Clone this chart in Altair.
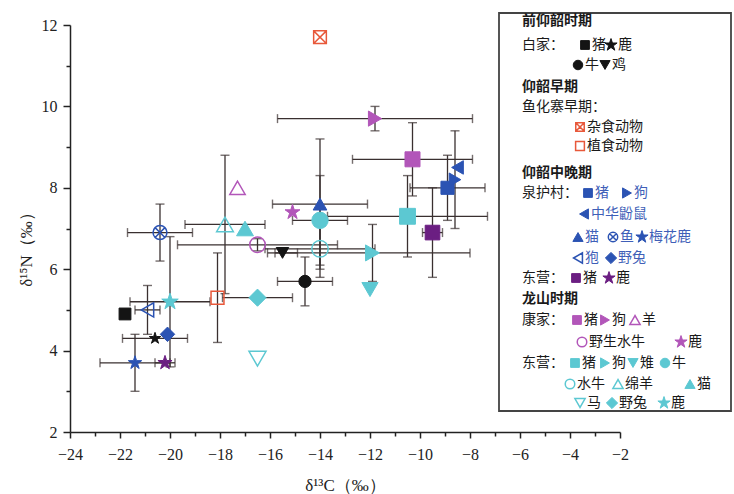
import altair as alt
import pandas as pd

# ---------------- data ----------------
group = (["白家"] * 4 + ["鱼化寨"] * 2 + ["泉护村"] * 8 + ["东营(仰韶)"] * 2
         + ["康家"] * 5 + ["东营(龙山)"] * 10)
animal = ["猪", "鹿", "牛", "鸡",
          "杂食动物", "植食动物",
          "猪", "狗", "中华鼢鼠", "猫", "鱼", "梅花鹿", "狍", "野兔",
          "猪", "鹿",
          "猪", "狗", "羊", "野生水牛", "鹿",
          "猪", "狗", "雉", "牛", "水牛", "绵羊", "猫", "马", "野兔", "鹿"]
d13c = [-21.8, -20.6, -14.6, -15.5,
        -14.0, -18.1,
        -8.9, -8.6, -8.5, -14.0, -20.4, -21.4, -20.9, -20.1,
        -9.5, -20.2,
        -10.3, -11.8, -17.3, -16.5, -15.1,
        -10.5, -11.9, -12.0, -14.0, -14.0, -17.8, -17.0, -16.5, -16.5, -20.0]
d15n = [4.9, 4.3, 5.7, 6.4,
        11.7, 5.3,
        8.0, 8.2, 8.5, 7.6, 6.9, 3.7, 5.0, 4.4,
        6.9, 3.7,
        8.7, 9.7, 8.0, 6.6, 7.4,
        7.3, 6.4, 5.5, 7.2, 6.5, 7.1, 7.0, 3.8, 5.3, 5.2]
sd13c = [0, 1.3, 1.1, 0.6,
         0, 0,
         1.5, 0, 0, 1.9, 1.3, 1.4, 0.5, 0,
         0.4, 0.4,
         2.4, 3.9, 0, 3.2, 0,
         3.2, 3.9, 0, 1.1, 2.2, 1.6, 0, 0, 1.4, 1.6]
sd15n = [0, 0, 0.6, 0,
         0, 1.1,
         0.8, 1.2, 0, 1.6, 0.7, 0.7, 0.6, 0,
         1.1, 0,
         0.9, 0.3, 0, 0.15, 0,
         1.0, 0.7, 0, 1.1, 0.7, 1.7, 0, 0, 0, 1.6]

# ---------------- styles ----------------
GROUP_COLOR = {"白家": "#141414", "鱼化寨": "#E8583A", "泉护村": "#2B53B3",
               "东营(仰韶)": "#6B1E82", "康家": "#B256B9", "东营(龙山)": "#5CC8D2"}
STAR = ("M0,-1L0.2245,-0.309L0.951,-0.309L0.363,0.118L0.588,0.809L0,0.382"
        "L-0.588,0.809L-0.363,0.118L-0.951,-0.309L-0.2245,-0.309Z")
XSQ = "M-1,-1L1,-1L1,1L-1,1Z M-1,-1L1,1 M1,-1L-1,1"
XCIRC = ("M-1,0A1,1,0,1,1,1,0A1,1,0,1,1,-1,0Z "
         "M-0.707,-0.707L0.707,0.707 M0.707,-0.707L-0.707,0.707")
marker = ["square", STAR, "circle", "triangle-down",
          XSQ, "square",
          "square", "triangle-right", "triangle-left", "triangle-up", XCIRC, STAR, "triangle-left", "diamond",
          "square", STAR,
          "square", "triangle-right", "triangle-up", "circle", STAR,
          "square", "triangle-right", "triangle-down", "circle", "circle", "triangle-up", "triangle-up",
          "triangle-down", "diamond", STAR]
T, F = True, False
hollow = [F, F, F, F, T, T, F, F, F, F, T, F, T, F, F, F, F, F, T, T, F,
          F, F, F, F, T, T, F, T, F, F]
SHAPE_SIZE = {"square": 140, "circle": 165, "triangle-up": 190, "triangle-down": 190,
              "triangle-left": 190, "triangle-right": 190, "diamond": 230,
              STAR: 300, XSQ: 130, XCIRC: 160}

keys = [f"{g}·{a}" for g, a in zip(group, animal)]
colors = [GROUP_COLOR[g] for g in group]
fills = ["transparent" if h else c for h, c in zip(hollow, colors)]
sizes = [SHAPE_SIZE[m] for m in marker]
swidths = [1.5 if h else 1.0 for h in hollow]

df = pd.DataFrame({"key": keys, "x": d13c, "y": d15n, "sx": sd13c, "sy": sd15n,
                   "sw": swidths})
df["xlo"] = df.x - df.sx
df["xhi"] = df.x + df.sx
df["ylo"] = df.y - df.sy
df["yhi"] = df.y + df.sy
hx = df[df.sx > 0]
hy = df[df.sy > 0]
hcaps = pd.concat([pd.DataFrame({"x": hx.xlo, "y": hx.y}), pd.DataFrame({"x": hx.xhi, "y": hx.y})])
vcaps = pd.concat([pd.DataFrame({"x": hy.x, "y": hy.ylo}), pd.DataFrame({"x": hy.x, "y": hy.yhi})])

# ---------------- scales & axes ----------------
OX, OY = 70, 25  # plot origin in the page
xs = alt.Scale(domain=[-24, -2], nice=False, zero=False)
ys = alt.Scale(domain=[2, 12], nice=False, zero=False)
AX = dict(grid=False, domainColor="#222", domainWidth=1.5, tickColor="#222", tickWidth=1.5,
          labelFont="Liberation Serif", labelFontSize=16, labelColor="#222",
          titleFont="Liberation Serif", titleFontSize=17, titleColor="#222",
          titleFontWeight="normal", labelOverlap=False, labelFlush=False)
xaxis = alt.Axis(values=list(range(-24, -1)), title="δ¹³C（‰）",
                 labelExpr="datum.value % 2 === 0 ? datum.label : ''",
                 tickSize={"condition": {"test": "datum.value % 2 === 0", "value": 6}, "value": 4},
                 labelPadding=8, titleX=275, titleY=53, titleBaseline="middle", **AX)
yaxis = alt.Axis(values=list(range(2, 13)), title="δ¹⁵N（‰）",
                 labelExpr="datum.value % 2 === 0 ? datum.label : ''",
                 tickSize={"condition": {"test": "datum.value % 2 === 0", "value": 7}, "value": 4},
                 labelPadding=6, titleX=-44, titleY=220, titleBaseline="middle", **AX)

EB = "#3a3030"
X = lambda f: alt.X(f, type="quantitative", scale=xs, axis=xaxis)
Y = lambda f: alt.Y(f, type="quantitative", scale=ys, axis=yaxis)

hbar = alt.Chart(hx).mark_rule(color=EB, strokeWidth=1.3).encode(x=X("xlo"), x2="xhi", y=Y("y"))
vbar = alt.Chart(hy).mark_rule(color=EB, strokeWidth=1.3).encode(x=X("x"), y=Y("ylo"), y2="yhi")
hcap = alt.Chart(hcaps).mark_tick(orient="vertical", size=9, thickness=1.4, color=EB).encode(x=X("x"), y=Y("y"))
vcap = alt.Chart(vcaps).mark_tick(orient="horizontal", size=9, thickness=1.4, color=EB).encode(x=X("x"), y=Y("y"))

shape_enc = alt.Shape("key:N", scale=alt.Scale(domain=keys, range=marker), legend=None)
fill_enc = alt.Fill("key:N", scale=alt.Scale(domain=keys, range=fills), legend=None)
stroke_enc = alt.Stroke("key:N", scale=alt.Scale(domain=keys, range=colors), legend=None)

points = alt.Chart(df).mark_point(filled=True, opacity=1, fillOpacity=1).encode(
    x=X("x"), y=Y("y"), shape=shape_enc, fill=fill_enc, stroke=stroke_enc,
    size=alt.Size("key:N", scale=alt.Scale(domain=keys, range=sizes), legend=None),
    strokeWidth=alt.StrokeWidth("sw:Q", scale=None),
)

# ---------------- custom legend (page pixel layout) ----------------
headers = [(522, 21, "前仰韶时期"), (522, 87, "仰韶早期"), (522, 173, "仰韶中晚期"), (522, 299, "龙山时期")]
sites = [(522, 45, "白家："), (522, 107, "鱼化寨早期："), (522, 193, "泉护村："),
         (522, 278, "东营："), (522, 320, "康家："), (522, 363, "东营：")]
items = [(585, 45, 0), (611, 45, 1), (578, 65, 2), (605, 65, 3),
         (580, 127, 4), (580, 146, 5),
         (588, 193, 6), (627, 193, 7), (584, 214, 8),
         (578, 237, 9), (613, 237, 10), (642, 237, 11),
         (578, 258, 12), (611, 258, 13),
         (576, 278, 14), (609, 278, 15),
         (577, 320, 16), (605, 320, 17), (635, 320, 18),
         (582, 342, 19), (681, 342, 20),
         (575, 363, 21), (605, 363, 22), (633, 363, 23), (665, 363, 24),
         (570, 384, 25), (618, 384, 26), (690, 384, 27),
         (580, 403, 28), (612, 403, 29), (664, 403, 30)]

leg_sym = pd.DataFrame({"lx": [p[0] - OX for p in items], "ly": [p[1] - OY for p in items],
                        "key": [keys[p[2]] for p in items],
                        "sz": [sizes[p[2]] * 0.55 for p in items],
                        "sw": [swidths[p[2]] for p in items]})
leg_lab = pd.DataFrame({"lx": [p[0] - OX + 7 for p in items], "ly": [p[1] - OY for p in items],
                        "t": [animal[p[2]] for p in items],
                        "c": ["#3F5FB8" if group[p[2]] == "泉护村" else "#1a1a1a" for p in items]})
leg_site = pd.DataFrame({"lx": [p[0] - OX for p in sites], "ly": [p[1] - OY for p in sites],
                         "t": [p[2] for p in sites]})
leg_head = pd.DataFrame({"lx": [p[0] - OX for p in headers], "ly": [p[1] - OY for p in headers],
                         "t": [p[2] for p in headers]})

LX = alt.X("lx:Q", scale=None, axis=None)
LY = alt.Y("ly:Q", scale=None, axis=None)
box = alt.Chart(pd.DataFrame({"a": [0]})).mark_rect(fill="white", stroke="#444", strokeWidth=1.8).encode(
    x=alt.value(499 - OX), x2=alt.value(731 - OX), y=alt.value(13 - OY), y2=alt.value(411 - OY))
lsym = alt.Chart(leg_sym).mark_point(filled=True, opacity=1).encode(
    x=LX, y=LY, shape=shape_enc, fill=fill_enc, stroke=stroke_enc,
    size=alt.Size("sz:Q", scale=None), strokeWidth=alt.StrokeWidth("sw:Q", scale=None))
FONT = "Noto Sans CJK SC"
llab = alt.Chart(leg_lab).mark_text(align="left", baseline="middle", font=FONT, fontSize=14).encode(
    x=LX, y=LY, text="t:N", color=alt.Color("c:N", scale=None))
lsite = alt.Chart(leg_site).mark_text(align="left", baseline="middle", font=FONT, fontSize=14,
                                      color="#1a1a1a").encode(x=LX, y=LY, text="t:N")
lhead = alt.Chart(leg_head).mark_text(align="left", baseline="middle", font=FONT, fontSize=14,
                                      fontWeight="bold", color="#1a1a1a").encode(x=LX, y=LY, text="t:N")

chart = alt.layer(hbar, vbar, hcap, vcap, points, box, lsym, llab, lsite, lhead).properties(
    width=550, height=407,
    padding={"left": OX, "top": OY, "right": 734 - OX - 550, "bottom": 494 - OY - 407},
    autosize=alt.AutoSizeParams(type="none"),
    background="white",
).configure_view(stroke=None)

chart.save("out.html", embed_options={"renderer": "svg", "actions": False})
